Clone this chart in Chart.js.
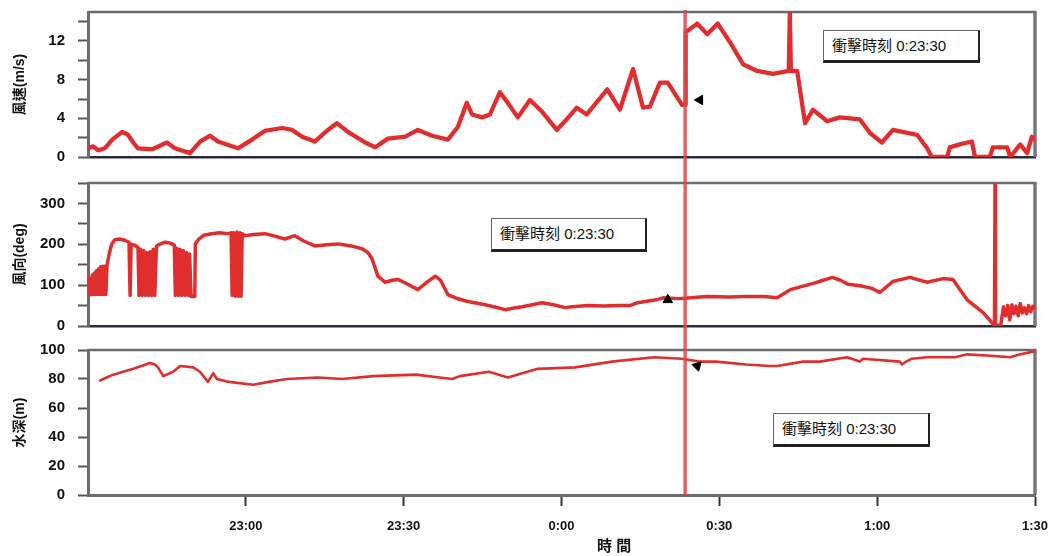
<!DOCTYPE html>
<html>
<head>
<meta charset="utf-8">
<script src="https://cdn.jsdelivr.net/npm/chart.js@4/dist/chart.umd.min.js"></script>
<style>
  html, body { margin: 0; padding: 0; background: #fff; }
  #wrap { position: relative; width: 1048px; height: 556px; overflow: hidden; }
  #wrap canvas { position: absolute; left: 0; }
  .note {
    position: absolute; box-sizing: border-box; background: #fff;
    border: 1px solid #666; border-right: 2px solid #222; border-bottom: 3px solid #222;
    font: 15px "Liberation Sans", "Noto Sans CJK TC", sans-serif; color: #111;
    padding-left: 8px; line-height: 29px; white-space: nowrap;
  }
</style>
</head>
<body>
<div id="wrap">
  <canvas id="cSpeed" width="1048" height="170" style="top:0px"></canvas>
  <canvas id="cDir" width="1048" height="168" style="top:170px"></canvas>
  <canvas id="cDepth" width="1048" height="218" style="top:338px"></canvas>
  <div class="note" id="note1" style="left:823px;top:30px;width:157px;height:33px"></div>
  <div class="note" id="note2" style="left:491px;top:218px;width:156px;height:34px"></div>
  <div class="note" id="note3" style="left:773px;top:413px;width:157px;height:34px"></div>
</div>
<script>
// time axis: minutes after 22:30
const startClock = 22 * 60 + 30;
const tickMinutes = [30, 60, 90, 120, 150, 180];
const tickLabels = ["23:00", "23:30", "0:00", "0:30", "1:00", "1:30"];
const impactMinute = 113.5;
const xTitle = '時 間';

// wind speed (m/s)
const speedTime = [0, 1.0, 1.9, 3.2, 4.6, 6.5, 7.6, 8.6, 9.5, 12.2, 15.0, 16.5, 19.4, 21.3, 23.2, 24.7, 28.5, 31.2, 33.6, 36.9, 38.8, 40.7, 43.1, 45.6, 47.3, 49.4, 52.7, 54.6, 57.0, 60.3, 62.7, 65.4, 68.4, 70.3, 72.0, 73.0, 74.9, 76.4, 78.3, 79.8, 81.7, 84.0, 86.3, 89.1, 91.0, 92.9, 94.8, 98.7, 101.1, 103.6, 105.5, 106.8, 108.7, 110.2, 112.9, 113.5, 113.6, 115.8, 117.7, 119.7, 122.0, 124.5, 127.2, 130.2, 133.2, 133.4, 133.6, 134.8, 135.9, 136.3, 137.8, 140.5, 142.9, 146.7, 148.6, 150.9, 153.0, 157.6, 159.5, 160.4, 163.3, 163.8, 165.7, 168.0, 168.6, 171.4, 172.0, 174.7, 175.3, 177.2, 178.5, 179.4, 180];
const speedValue = [0.9, 1.1, 0.7, 0.9, 1.8, 2.6, 2.3, 1.5, 0.9, 0.8, 1.5, 0.9, 0.4, 1.6, 2.2, 1.6, 0.9, 1.8, 2.7, 3.0, 2.8, 2.1, 1.6, 2.8, 3.5, 2.6, 1.5, 1.0, 1.9, 2.1, 2.8, 2.2, 1.8, 3.1, 5.6, 4.4, 4.1, 4.4, 6.7, 5.6, 4.1, 5.9, 4.7, 2.8, 3.9, 5.1, 4.4, 7.0, 4.9, 9.1, 5.1, 5.2, 7.7, 7.7, 5.4, 5.4, 12.9, 13.8, 12.7, 13.8, 11.9, 9.6, 8.9, 8.6, 8.9, 15, 8.9, 8.9, 4.9, 3.5, 4.9, 3.7, 4.1, 3.9, 2.5, 1.5, 2.8, 2.3, 0.9, 0, 0, 1.0, 1.3, 1.6, 0, 0, 1.0, 1.0, 0, 1.3, 0.4, 2.1, 1.8];

// wind direction (deg)
const dirTime = [0.0, 0.2, 0.4, 0.6, 0.8, 1.0, 1.2, 1.4, 1.6, 1.8, 2.0, 2.2, 2.4, 2.6, 2.8, 3.0, 3.2, 3.4, 3.6, 4.0, 4.5, 5.1, 6.0, 7.0, 7.8, 8.0, 8.2, 9.0, 9.5,
  9.7, 10.0, 10.3, 10.6, 10.9, 11.2, 11.5, 11.8, 12.1, 12.4, 12.7, 13.0, 13.6, 14.6, 15.6, 16.4,
  16.6, 16.9, 17.2, 17.5, 17.8, 18.1, 18.4, 18.7, 19.0, 19.3, 19.6, 20.3, 20.4, 21.0, 22.0, 23.5, 25.0, 26.5, 27.2,
  27.4, 27.7, 28.0, 28.3, 28.6, 28.9, 29.1, 29.3,
  29.8, 31.5, 33.6, 35.5, 37.4, 39.3, 41.0, 43.1, 45.5, 47.5, 50.0, 52.1, 53.2, 54.0, 55.1, 56.5, 57.8, 58.9, 60.5, 62.7, 64.5, 66.0, 67.0, 68.4, 70.0, 72.2, 75.5, 77.5, 79.3, 81.0, 82.5, 84.5, 86.3, 88.5, 90.7, 92.0, 95.0, 98.0, 101.0, 103.0, 104.5, 108.0, 109.3, 112.3, 113.5, 117.5, 122.0, 125.0, 128.5, 131.0, 133.5, 138.0, 139.0, 141.5, 143.0, 144.5, 147.0, 149.0, 150.5, 153.0, 156.2, 159.5, 162.5, 164.4, 167.1, 170.2, 172.0, 172.3, 172.4, 172.5, 173.5,
  174.0, 174.4, 174.8, 175.2, 175.6, 176.0, 176.4, 176.8, 177.2, 177.6, 178.0, 178.4, 178.8, 179.2, 179.6, 180];
const dirValue = [120, 77, 115, 77, 125, 77, 130, 77, 135, 77, 140, 77, 145, 77, 146, 77, 146, 77, 148, 175, 200, 211, 213, 210, 205, 75, 200, 197, 192,
  75, 188, 75, 185, 75, 180, 75, 182, 75, 188, 75, 195, 200, 205, 203, 198,
  75, 190, 75, 188, 75, 185, 75, 180, 75, 176, 72, 72, 201, 212, 222, 226, 228, 226, 228,
  75, 228, 73, 230, 73, 228, 73, 226,
  221, 224, 226, 220, 213, 221, 208, 196, 199, 201, 196, 189, 180, 164, 122, 107, 112, 114, 104, 89, 108, 122, 112, 77, 68, 60, 52, 46, 40, 44, 47, 52, 57, 52, 45, 47, 50, 49, 50, 50, 57, 64, 69, 67, 68, 72, 71, 72, 72, 69, 89, 105, 109, 119, 112, 102, 98, 92, 82, 109, 119, 107, 116, 114, 64, 32, 5, 2, 350, 2, 2,
  47, 25, 50, 15, 52, 30, 48, 25, 55, 32, 45, 30, 50, 35, 48, 45];

// water depth (m)
const depthTime = [2.3, 2.9, 4.8, 8.6, 11.0, 11.8, 12.7, 13.3, 14.3, 16.2, 17.5, 20.0, 21.3, 22.8, 23.8, 24.5, 26.8, 31.4, 34.4, 37.8, 43.7, 48.3, 54.2, 62.3, 69.2, 70.7, 76.2, 79.8, 85.5, 92.6, 99.6, 107.6, 112.9, 116.3, 119.4, 125.1, 129.6, 131.0, 135.9, 139.1, 144.3, 146.7, 147.3, 154.3, 154.7, 155.5, 156.6, 159.5, 164.8, 167.1, 171.6, 175.3, 177.2, 179.8, 180];
const depthValue = [79, 80, 83, 87, 90, 91, 90, 88, 82, 85, 89, 88, 85, 78, 84, 80, 78, 76, 78, 80, 81, 80, 82, 83, 80, 82, 85, 81, 87, 88, 92, 95, 94, 92, 92, 90, 89, 89, 92, 92, 95, 92, 94, 92, 90, 92, 94, 95, 95, 97, 96, 95, 97, 99, 100];

// small arrow heads next to the impact time
const markerTime = [116.3, 110.2, 115.8];
const markerValue = [5.9, 64, 89];

const RED = 'rgb(224,46,46)';
const AXIS_GREY = '#6b6b6b';
const BASE_FONT = '"Liberation Sans", "Noto Sans CJK TC", sans-serif';
Chart.defaults.font.family = BASE_FONT;

function clockText(minutes) {
  const total = Math.round((startClock + minutes) * 60) % (24 * 3600);
  const h = Math.floor(total / 3600);
  const m = Math.floor((total % 3600) / 60);
  const s = total % 60;
  return h + ':' + String(m).padStart(2, '0') + ':' + String(s).padStart(2, '0');
}
const impactText = '衝擊時刻 ' + clockText(impactMinute);
['note1', 'note2', 'note3'].forEach(id => { document.getElementById(id).textContent = impactText; });

function pairs(xs, ys) { return xs.map((x, i) => ({ x: x, y: ys[i] })); }

// vertical red line at the impact time, running through the gaps between panels
const impactLine = {
  id: 'impactLine',
  afterDraw(chart, args, opts) {
    const { ctx, chartArea } = chart;
    const x = chart.scales.x.getPixelForValue(impactMinute);
    const y0 = opts.fromTop ? 0 : chartArea.top - 2;
    const y1 = opts.toBottom ? chart.height : chartArea.bottom;
    ctx.save();
    ctx.strokeStyle = 'rgba(222,72,72,0.85)';
    ctx.lineWidth = 3.5;
    ctx.beginPath();
    ctx.moveTo(x, y0);
    ctx.lineTo(x, y1);
    ctx.stroke();
    ctx.restore();
  }
};

// top and right edges of each panel frame
const frame = {
  id: 'frame',
  beforeDatasetsDraw(chart) {
    const { ctx } = chart;
    const xs = chart.scales.x, ys = chart.scales.y;
    ctx.save();
    ctx.strokeStyle = AXIS_GREY;
    ctx.lineWidth = 2.5;
    ctx.beginPath();
    ctx.moveTo(xs.left, ys.top);
    ctx.lineTo(xs.right + 1.5, ys.top);
    ctx.stroke();
    ctx.strokeStyle = '#777';
    ctx.lineWidth = 3.5;
    ctx.beginPath();
    ctx.moveTo(xs.right, ys.top);
    ctx.lineTo(xs.right, ys.bottom);
    ctx.stroke();
    ctx.restore();
  }
};

// time-axis caption under the bottom panel
const timeCaption = {
  id: 'timeCaption',
  afterDraw(chart, args, opts) {
    if (!opts.text) return;
    const { ctx } = chart;
    const xs = chart.scales.x;
    ctx.save();
    ctx.fillStyle = '#111';
    ctx.font = 'bold 15px ' + BASE_FONT;
    ctx.textAlign = 'center';
    ctx.textBaseline = 'middle';
    ctx.fillText(opts.text, xs.getPixelForValue(opts.at), xs.bottom - 9);
    ctx.restore();
  }
};

function yAxis(title, max, step, labelStep) {
  return {
    type: 'linear', position: 'left', min: 0, max: max,
    ticks: {
      stepSize: step, includeBounds: false, autoSkip: false, padding: 13,
      color: '#111', font: { size: 15, weight: 'bold' },
      callback: v => (v % labelStep === 0 ? String(v) : '')
    },
    grid: { drawOnChartArea: false, drawTicks: true, tickLength: 10, tickWidth: 2, tickColor: '#555' },
    border: { display: true, color: AXIS_GREY, width: 3 },
    title: { display: true, text: title, color: '#111', font: { size: 14, weight: 'bold' }, padding: { top: 12, bottom: 0 } },
    afterFit: s => { s.width = 88; s.paddingTop = 0; s.paddingBottom = 0; }
  };
}

function hiddenX() {
  return {
    type: 'linear', min: 0, max: 180,
    ticks: { display: false, stepSize: 30 },
    grid: { display: false, drawTicks: false },
    border: { display: true, color: '#2a2a3a', width: 2.5, dash: [2, 1.5] },
    afterFit: s => { s.height = 0; s.paddingLeft = 0; s.paddingRight = 0; }
  };
}

function timeX() {
  return {
    type: 'linear', min: 0, max: 180,
    afterBuildTicks: s => { s.ticks = tickMinutes.map(v => ({ value: v })); },
    ticks: {
      autoSkip: false, maxRotation: 0, padding: 13, color: '#111',
      font: { size: 13, weight: 'bold' },
      callback: v => { const i = tickMinutes.indexOf(v); return i >= 0 ? tickLabels[i] : ''; }
    },
    grid: { drawOnChartArea: false, drawTicks: true, tickLength: 11, tickWidth: 2, tickColor: '#333' },
    border: { display: true, color: AXIS_GREY, width: 3 },
    afterFit: s => { s.height = 61; s.paddingLeft = 0; s.paddingRight = 0; }
  };
}

function panel(id, series, marker, yCfg, xCfg, pad, lineOpts, markerRotation, lineWidth, caption) {
  return new Chart(document.getElementById(id), {
    type: 'line',
    data: {
      datasets: [
        {
          data: [marker], type: 'scatter', order: 0,
          pointStyle: 'triangle', pointRadius: 5.5, rotation: markerRotation,
          backgroundColor: '#000', borderColor: '#000', borderWidth: 1
        },
        {
          data: series, order: 1, borderColor: RED, borderWidth: lineWidth,
          pointRadius: 0, tension: 0, fill: false, borderJoinStyle: 'round', borderCapStyle: 'round'
        }
      ]
    },
    options: {
      responsive: false, animation: false, devicePixelRatio: 1,
      layout: { autoPadding: false, padding: pad },
      plugins: {
        legend: { display: false }, tooltip: { enabled: false },
        impactLine: lineOpts, timeCaption: caption || {}
      },
      scales: { x: xCfg, y: yCfg }
    },
    plugins: [frame, impactLine, timeCaption]
  });
}

panel('cSpeed', pairs(speedTime, speedValue), { x: markerTime[0], y: markerValue[0] },
  yAxis('風速(m/s)', 15, 2, 4), hiddenX(),
  { top: 12, bottom: 13, left: 0, right: 13 }, { fromTop: false, toBottom: true }, -90, 4.3);

panel('cDir', pairs(dirTime, dirValue), { x: markerTime[1], y: markerValue[1] },
  yAxis('風向(deg)', 350, 50, 100), hiddenX(),
  { top: 13, bottom: 12, left: 0, right: 13 }, { fromTop: true, toBottom: true }, 0, 3.5);

panel('cDepth', pairs(depthTime, depthValue), { x: markerTime[2], y: markerValue[2] },
  yAxis('水深(m)', 100, 20, 20), timeX(),
  { top: 12, bottom: 0, left: 0, right: 13 }, { fromTop: true, toBottom: false }, 165, 2.6,
  { text: xTitle, at: 100 });
</script>
</body>
</html>
